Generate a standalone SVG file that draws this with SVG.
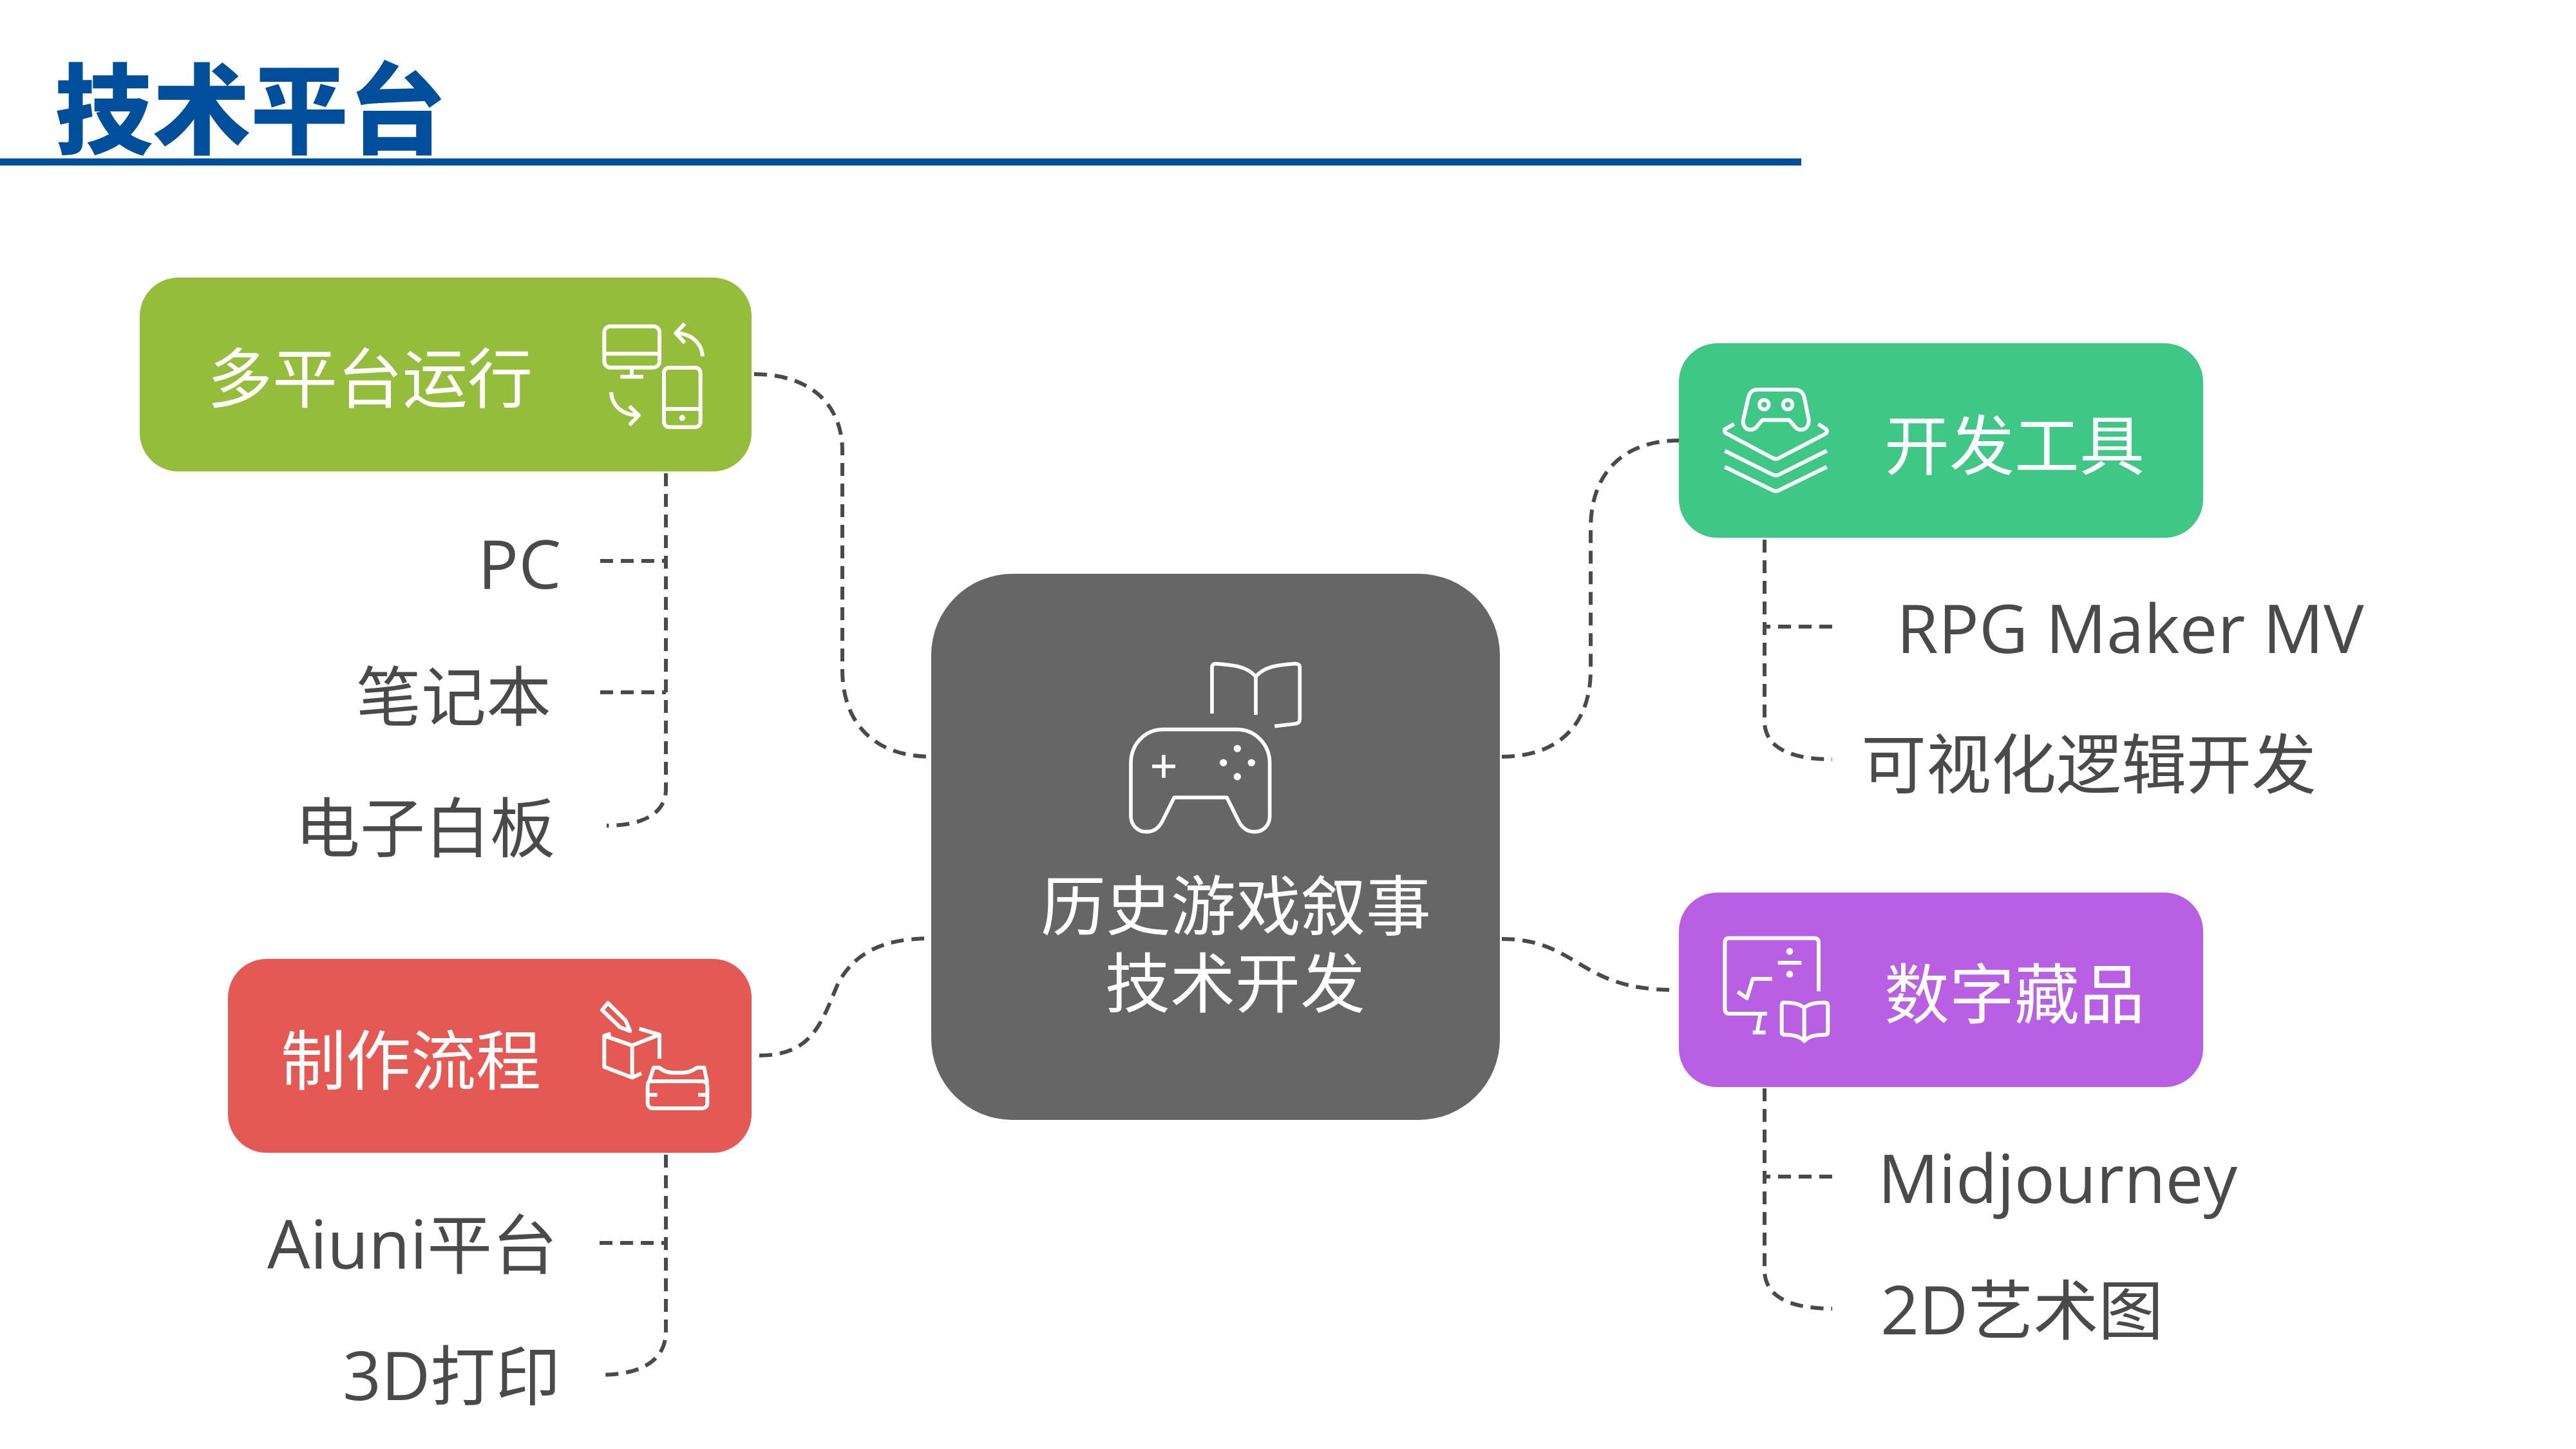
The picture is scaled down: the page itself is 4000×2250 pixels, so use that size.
<svg xmlns="http://www.w3.org/2000/svg" width="4000" height="2250" viewBox="0 0 4000 2250">
<style>
text{font-family:"Open Sans","Noto Sans CJK SC",sans-serif;font-size:105px;font-weight:400}
.z{font-family:"Noto Sans CJK SC",sans-serif;font-size:101px}
.w{fill:#fff}
.d{fill:#4a4a4a}
.i{fill:none;stroke:#fff;stroke-linejoin:round}
.c{fill:none;stroke:#4a4a4a;stroke-width:6;stroke-dasharray:20 12}
.f{fill:#fff}
</style>
<rect width="4000" height="2250" fill="#fff"/>
<g id="title">
<text x="85" y="227" style="font-family:'Noto Sans CJK SC',sans-serif;font-size:152px;font-weight:900" fill="#004f9c">技术平台</text>
<rect x="0" y="246" width="2797" height="11" fill="#004f9c"/>
</g>
<g id="connectors">
<path class="c" d="M1171 581C1260 581 1308 630 1308 700V1040C1308 1125 1360 1175 1446 1175"/>
<path class="c" d="M1179 1639C1260 1639 1275 1590 1300 1530C1325 1480 1370 1457 1446 1457"/>
<path class="c" d="M2332 1175C2420 1175 2470 1125 2470 1040V820C2470 735 2520 684 2607 684"/>
<path class="c" d="M2332 1458C2450 1458 2450 1537 2598 1537"/>
<path class="c" d="M1034 735V1225C1034 1262 1000 1282 942 1282"/>
<path class="c" d="M932 871H1034"/>
<path class="c" d="M932 1075H1034"/>
<path class="c" d="M1034 1793V2067C1034 2110 1000 2135 931 2135"/>
<path class="c" d="M931 1930H1034"/>
<path class="c" d="M2740 838V1120C2740 1155 2770 1179 2845 1179"/>
<path class="c" d="M2845 973H2740"/>
<path class="c" d="M2740 1690V1972C2740 2008 2770 2032 2845 2032"/>
<path class="c" d="M2845 1827H2740"/>
</g>
<g id="center">
<rect x="1446" y="891" width="883" height="848" rx="126" fill="#666"/>
<g class="i" transform="translate(1720 1010) scale(.3333)" stroke-width="17">
<path d="M260 368H600C690 368 755 440 755 525V770C755 815 725 845 685 845C650 845 625 825 610 795L555 685H310L255 795C240 825 215 845 180 845C140 845 108 815 108 770V525C108 440 170 368 260 368Z"/>
<path d="M207 540H315M261 487V593"/>
<path d="M486 294V80Q486 60 505 62C590 68 650 75 690 122C730 75 790 68 870 62Q895 60 895 80V320Q895 340 870 342L778 353M690 122V300"/>
<g class="f" stroke="none"><circle cx="604" cy="457" r="17"/><circle cx="539" cy="523" r="17"/><circle cx="670" cy="523" r="17"/><circle cx="604" cy="588" r="17"/></g>
</g>
<text class="w z" x="1616" y="1444">历史游戏叙事</text>
<text class="w z" x="1716" y="1564">技术开发</text>
</g>
<g id="node-platform">
<rect x="217" y="431" width="950" height="301" rx="60" fill="#94bd3c"/>
<g class="i" transform="translate(900 470) scale(.3333)" stroke-width="18">
<rect x="115" y="110" width="257" height="192" rx="28"/>
<path d="M115 238H372M243 302V345M190 345H297"/>
<rect x="393" y="303" width="170" height="277" rx="24"/>
<path d="M393 495H563"/>
<path d="M573 250C570 190 520 142 448 142M490 97L448 142L490 187"/>
<path d="M147 417C150 480 200 525 275 525M232 482L275 525L232 570"/>
<circle class="f" stroke="none" cx="478" cy="537" r="14"/>
</g>
<text class="w z" x="322" y="625">多平台运行</text>
</g>
<g id="node-process">
<rect x="354" y="1489" width="813" height="301" rx="60" fill="#e55955"/>
<g class="i" transform="translate(920 1540) scale(.3333)" stroke-width="18">
<path d="M72 52L45 85L128 165L175 183L155 135Z"/>
<path d="M85 195L55 205V350L185 400L228 380M55 205L185 250L312 200L218 172M185 250V400M312 200V312"/>
<path d="M262 425L285 353H310C330 370 350 377 375 377H420C450 377 470 365 488 353H520L535 425M265 417H510C528 417 535 430 535 440V520C535 535 525 543 510 543H280C265 543 257 530 257 520V440C257 430 262 417 265 417M265 480H302M492 480H533"/>
</g>
<text class="w z" x="436" y="1684">制作流程</text>
</g>
<g id="node-tools">
<rect x="2607" y="533" width="814" height="302" rx="60" fill="#3fc785"/>
<g class="i" transform="translate(2670 590) scale(.3333)" stroke-width="18">
<path d="M175 45H350C375 45 390 60 395 80L415 180C420 210 405 232 380 232C365 232 355 225 345 210L325 187H200L180 210C170 225 160 232 145 232C120 232 105 210 112 180L135 80C140 60 155 45 175 45Z"/>
<circle cx="208" cy="115" r="22"/><circle cx="318" cy="115" r="22"/>
<path d="M68 205L25 230Q20 240 30 248L250 365Q263 370 275 365L495 250Q505 240 498 230L460 205M25 330L250 442Q263 448 275 442L500 330M25 405L250 515Q263 520 275 515L500 405"/>
</g>
<text class="w z" x="2926" y="729">开发工具</text>
</g>
<g id="node-collectibles">
<rect x="2607" y="1386" width="814" height="302" rx="60" fill="#b85fe3"/>
<g class="i" transform="translate(2670 1440) scale(.3333)" stroke-width="18">
<path d="M462 298V70Q462 50 440 50H45Q25 50 25 70V380Q25 402 45 402H222"/>
<path d="M190 408L175 490M155 490H215M272 165H382M85 300L128 330L155 240H245"/>
<path d="M395 375C365 350 330 352 300 350Q290 350 290 365V490Q290 500 305 500C340 500 375 505 395 530C415 505 450 500 490 500Q505 500 505 490V365Q505 350 490 350C460 352 425 350 395 375ZM395 375V530"/>
<g class="f" stroke="none"><circle cx="327" cy="112" r="16"/><circle cx="327" cy="218" r="16"/></g>
</g>
<text class="w z" x="2926" y="1581">数字藏品</text>
</g>
<g id="labels">
<text class="d" x="742" y="914">PC</text>
<text class="d z" x="553" y="1119">笔记本</text>
<text class="d z" x="458" y="1323">电子白板</text>
<text class="d" x="415" y="1970">Aiuni<tspan class="z">平台</tspan></text>
<text class="d" x="532" y="2174">3D<tspan class="z">打印</tspan></text>
<text class="d" x="2945" y="1014">RPG Maker MV</text>
<text class="d z" x="2890" y="1224">可视化逻辑开发</text>
<text class="d" x="2916" y="1868">Midjourney</text>
<text class="d" x="2920" y="2072">2D<tspan class="z">艺术图</tspan></text>
</g>
</svg>
